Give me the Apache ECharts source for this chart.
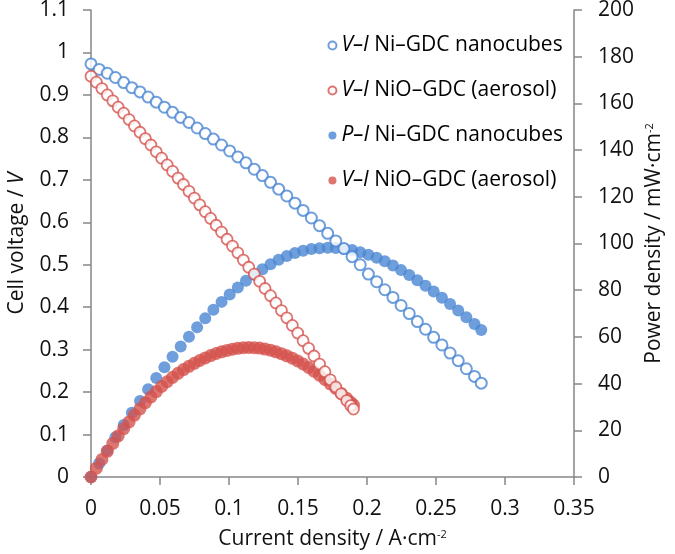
<!DOCTYPE html>
<html>
<head>
<meta charset="utf-8">
<script src="https://cdn.jsdelivr.net/npm/echarts@6/dist/echarts.min.js"></script>
<style>html,body{margin:0;padding:0;background:#fff}#c{width:675px;height:554px}</style>
</head>
<body>
<div id="c"></div>
<script>
// Ni–GDC nanocubes: current density (A/cm2), cell voltage (V), power density (mW/cm2)
var niI = [0,0.0059,0.0118,0.0177,0.0237,0.0296,0.0355,0.0414,0.0473,0.0532,0.0591,0.0650,0.0710,0.0769,0.0828,0.0887,0.0946,0.1005,0.1064,0.1123,0.1183,0.1242,0.1301,0.1360,0.1419,0.1478,0.1537,0.1597,0.1656,0.1715,0.1774,0.1833,0.1892,0.1951,0.2010,0.2070,0.2129,0.2188,0.2247,0.2306,0.2365,0.2424,0.2483,0.2543,0.2602,0.2661,0.2720,0.2779,0.2828];
var niV = [0.973,0.960,0.951,0.941,0.929,0.917,0.907,0.895,0.883,0.871,0.859,0.847,0.835,0.822,0.809,0.796,0.782,0.768,0.754,0.740,0.725,0.710,0.694,0.678,0.662,0.645,0.628,0.610,0.592,0.574,0.556,0.538,0.519,0.500,0.478,0.460,0.441,0.423,0.404,0.385,0.366,0.348,0.329,0.311,0.292,0.274,0.255,0.237,0.221];
var niP = [0,5.8,11.4,17.0,22.3,27.5,32.6,37.6,42.4,47.0,51.5,55.9,60.1,64.1,68.0,71.6,75.0,78.2,81.2,84.0,86.6,89.0,91.1,93.0,94.6,95.9,96.9,97.6,98.0,98.2,98.1,97.8,97.2,96.3,95.2,93.9,92.4,90.6,88.6,86.5,84.3,81.9,79.4,76.8,74.1,71.3,68.4,65.5,63.0];
// NiO–GDC (aerosol)
var aeI = [0,0.0039,0.0079,0.0118,0.0158,0.0197,0.0237,0.0276,0.0315,0.0355,0.0394,0.0434,0.0473,0.0512,0.0552,0.0591,0.0631,0.0670,0.0710,0.0749,0.0788,0.0828,0.0867,0.0907,0.0946,0.0986,0.1025,0.1064,0.1104,0.1143,0.1183,0.1222,0.1261,0.1301,0.1340,0.1380,0.1419,0.1459,0.1498,0.1537,0.1577,0.1616,0.1656,0.1695,0.1734,0.1774,0.1813,0.1853,0.1882,0.1902];
var aeV = [0.944,0.930,0.915,0.900,0.886,0.871,0.857,0.842,0.827,0.812,0.797,0.782,0.766,0.751,0.735,0.720,0.704,0.689,0.673,0.657,0.641,0.625,0.609,0.593,0.577,0.560,0.544,0.528,0.511,0.494,0.478,0.461,0.444,0.427,0.410,0.392,0.375,0.357,0.339,0.321,0.303,0.285,0.266,0.248,0.229,0.212,0.196,0.180,0.168,0.160];
var aeP = [0,3.8,7.5,11.0,14.4,17.6,20.7,23.6,26.5,29.2,31.8,34.3,36.6,38.8,40.8,42.7,44.4,46.0,47.4,48.7,49.9,51.0,52.0,52.9,53.6,54.2,54.7,55.1,55.4,55.5,55.4,55.2,54.8,54.3,53.6,52.8,51.9,50.9,49.7,48.4,46.9,45.3,43.6,41.8,39.9,37.9,35.8,33.7,32.0,30.8];

var xTicks = {min:0, max:0.35, interval:0.05};
var vTicks = {min:0, max:1.1, interval:0.1};
var pTicks = {min:0, max:200, interval:20};

var legendLabels = {
  s1: '{i|V–I} Ni–GDC nanocubes',
  s2: '{i|V–I} NiO–GDC (aerosol)',
  s3: '{i|P–I} Ni–GDC nanocubes',
  s4: '{i|V–I} NiO–GDC (aerosol)'
};

function zip(a,b){ return a.map(function(v,i){ return [v,b[i]]; }); }

var FONT = 'Open Sans';
var FS = 21;
var BLUE = '#4a86d2', RED = '#d4524e';
var chart = echarts.init(document.getElementById('c'), null, {renderer:'canvas'});
var axisLineStyle = {color:'#868686', width:1.5};
chart.setOption({
  animation:false,
  backgroundColor:'#fff',
  grid:{left:91, right:101, top:10, bottom:77, containLabel:false, outerBoundsMode:'none'},
  legend:{
    orient:'vertical', right:112, top:35, itemGap:24, padding:0,
    itemWidth:8, itemHeight:8, align:'left',
    data:[{name:'s1', icon:'circle'},{name:'s2', icon:'circle'},{name:'s3', icon:'circle'},{name:'s4', icon:'circle'}],
    formatter:function(n){ return legendLabels[n]; },
    textStyle:{fontFamily:FONT, fontSize:FS, color:'#000',
      rich:{i:{fontFamily:FONT, fontSize:FS, fontStyle:'italic', color:'#000'}}}
  },
  xAxis:{
    type:'value', min:xTicks.min, max:xTicks.max, interval:xTicks.interval,
    name:'Current density / A·cm{s|-2}', nameLocation:'middle', nameGap:52, nameMoveOverlap:false,
    nameTextStyle:{fontFamily:FONT, fontSize:FS, color:'#111', rich:{s:{fontSize:11, fontFamily:FONT, padding:[0,0,10,0]}}},
    axisLine:{show:true, lineStyle:axisLineStyle},
    axisTick:{show:true, inside:false, length:8, lineStyle:axisLineStyle},
    axisLabel:{fontFamily:FONT, fontSize:FS, color:'#111', margin:22},
    splitLine:{show:false}
  },
  yAxis:[{
    type:'value', position:'left', min:vTicks.min, max:vTicks.max, interval:vTicks.interval,
    name:'Cell voltage / {i|V}', nameLocation:'middle', nameGap:63, nameRotate:90, nameMoveOverlap:false,
    nameTextStyle:{fontFamily:FONT, fontSize:FS, color:'#111', rich:{i:{fontStyle:'italic', fontFamily:FONT, fontSize:FS}}},
    axisLine:{show:true, lineStyle:axisLineStyle},
    axisTick:{show:true, inside:false, length:8, lineStyle:axisLineStyle},
    axisLabel:{fontFamily:FONT, fontSize:FS, color:'#111', margin:22},
    splitLine:{show:false}
  },{
    type:'value', position:'right', min:pTicks.min, max:pTicks.max, interval:pTicks.interval,
    name:'Power density / mW·cm{s|-2}', nameLocation:'middle', nameGap:70, nameRotate:90, nameMoveOverlap:false,
    nameTextStyle:{fontFamily:FONT, fontSize:FS, color:'#111', rich:{s:{fontSize:11, fontFamily:FONT, padding:[0,0,10,0]}}},
    axisLine:{show:true, lineStyle:axisLineStyle},
    axisTick:{show:true, inside:false, length:8, lineStyle:axisLineStyle},
    axisLabel:{fontFamily:FONT, fontSize:FS, color:'#111', margin:24},
    splitLine:{show:false}
  }],
  series:[
    {name:'s3', type:'scatter', yAxisIndex:1, data:zip(niI,niP), symbol:'circle', symbolSize:12,
      itemStyle:{color:BLUE}},
    {name:'s4', type:'scatter', yAxisIndex:1, data:zip(aeI,aeP), symbol:'circle', symbolSize:13,
      itemStyle:{color:RED}},
    {name:'s1', type:'scatter', yAxisIndex:0, data:zip(niI,niV), symbol:'circle', symbolSize:11,
      itemStyle:{color:'#fff', borderColor:BLUE, borderWidth:2}},
    {name:'s2', type:'scatter', yAxisIndex:0, data:zip(aeI,aeV), symbol:'circle', symbolSize:11,
      itemStyle:{color:'#fff', borderColor:RED, borderWidth:1.8}}
  ]
});
</script>
</body>
</html>
